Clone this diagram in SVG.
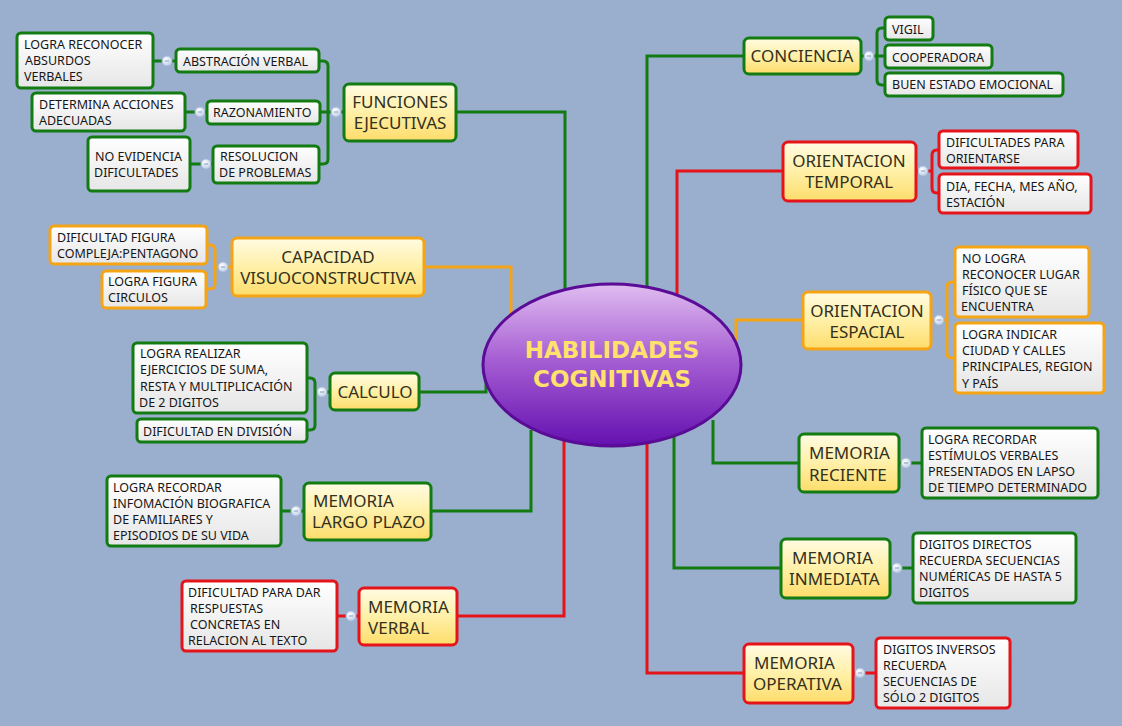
<svg xmlns="http://www.w3.org/2000/svg" width="1122" height="726" viewBox="0 0 1122 726">
<defs>
<linearGradient id="yel" x1="0" y1="0" x2="0" y2="1">
<stop offset="0" stop-color="#fffbe2"/><stop offset="0.5" stop-color="#fff0a8"/><stop offset="1" stop-color="#fddc6a"/>
</linearGradient>
<linearGradient id="wht" x1="0" y1="0" x2="0" y2="1">
<stop offset="0" stop-color="#ffffff"/><stop offset="1" stop-color="#e6e6e6"/>
</linearGradient>
<linearGradient id="pur" x1="0" y1="0" x2="0" y2="1">
<stop offset="0" stop-color="#e0bdf0"/><stop offset="0.45" stop-color="#a861d4"/><stop offset="1" stop-color="#6410b0"/>
</linearGradient>
<radialGradient id="btn" cx="0.4" cy="0.35" r="0.7">
<stop offset="0" stop-color="#ffffff"/><stop offset="1" stop-color="#b9cbe6"/>
</radialGradient>
</defs>
<style>
.g{stroke:#127b12}
.r{stroke:#e5141a}
.o{stroke:#f4a415}
.ln{fill:none;stroke-width:3}
.main{fill:url(#yel);stroke-width:3}
.leaf{fill:url(#wht);stroke-width:3}
.btn{fill:url(#btn);stroke:#a9bcd9;stroke-width:1}
.dash{stroke:#7f97c0;stroke-width:1}
text{font-family:"Noto Sans","DejaVu Sans",sans-serif}
.t{font-size:12.5px;fill:#161616}
.m{font-size:17px;fill:#33301c}
.c{text-anchor:middle}
.h{font-family:"DejaVu Sans",Verdana,sans-serif;font-weight:bold;font-size:23px;fill:#ffe16c;text-anchor:middle}
</style>
<rect width="1122" height="726" fill="#9aaecd"/>

<g id="connectors">
<!-- from center -->
<path class="ln g" d="M457,112 H565 V300"/>
<path class="ln o" d="M424,267 H511 V320"/>
<path class="ln g" d="M419,392 H486 V372"/>
<path class="ln g" d="M431,511 H531 V430"/>
<path class="ln r" d="M457,616 H564 V430"/>
<path class="ln g" d="M744,56 H647 V300"/>
<path class="ln r" d="M783,171 H677 V300"/>
<path class="ln o" d="M803,320 H736 V345"/>
<path class="ln g" d="M799,463 H713 V420"/>
<path class="ln g" d="M781,568 H674 V430"/>
<path class="ln r" d="M744,673 H647 V430"/>
<!-- sub branches -->
<path class="ln g" d="M319,61 H323 Q328,61 328,66 V159 Q328,164 323,164 H319 M320,112 H344"/>
<path class="ln g" d="M153,61 H176"/>
<path class="ln g" d="M185,112 H207"/>
<path class="ln g" d="M190,164 H213"/>
<path class="ln o" d="M207,245 H210 Q215,245 215,250 V284 Q215,289 210,289 H206 M215,267 H232"/>
<path class="ln g" d="M307,378 H310 Q315,378 315,383 V425 Q315,430 310,430 H307 M315,392 H330"/>
<path class="ln g" d="M281,511 H304"/>
<path class="ln r" d="M337,616 H359"/>
<path class="ln g" d="M861,56 H877 M885,28 H882 Q877,28 877,33 V80 Q877,85 882,85 H885 M877,56 H885"/>
<path class="ln r" d="M916,171 H932 M939,150 H937 Q932,150 932,155 V188 Q932,193 937,193 H939"/>
<path class="ln o" d="M931,320 H947 M955,282 H952 Q947,282 947,287 V353 Q947,358 952,358 H955"/>
<path class="ln g" d="M899,463 H922"/>
<path class="ln g" d="M890,568 H913"/>
<path class="ln r" d="M853,673 H876"/>
<!-- collapse buttons -->
<g>
<circle class="btn" cx="167" cy="61" r="5"/><path class="dash" d="M165,61 H169"/>
<circle class="btn" cx="200" cy="112" r="5"/><path class="dash" d="M198,112 H202"/>
<circle class="btn" cx="206" cy="164" r="5"/><path class="dash" d="M204,164 H208"/>
<circle class="btn" cx="336" cy="112" r="5"/><path class="dash" d="M334,112 H338"/>
<circle class="btn" cx="223" cy="267" r="5"/><path class="dash" d="M221,267 H225"/>
<circle class="btn" cx="322" cy="392" r="5"/><path class="dash" d="M320,392 H324"/>
<circle class="btn" cx="296" cy="511" r="5"/><path class="dash" d="M294,511 H298"/>
<circle class="btn" cx="351" cy="616" r="5"/><path class="dash" d="M349,616 H353"/>
<circle class="btn" cx="869" cy="56" r="5"/><path class="dash" d="M867,56 H871"/>
<circle class="btn" cx="923" cy="171" r="5"/><path class="dash" d="M921,171 H925"/>
<circle class="btn" cx="939" cy="320" r="5"/><path class="dash" d="M937,320 H941"/>
<circle class="btn" cx="906" cy="463" r="5"/><path class="dash" d="M904,463 H908"/>
<circle class="btn" cx="897" cy="568" r="5"/><path class="dash" d="M895,568 H899"/>
<circle class="btn" cx="860" cy="673" r="5"/><path class="dash" d="M858,673 H862"/>
</g>
</g>

<g id="center">
<ellipse cx="612" cy="365" rx="129" ry="81" fill="url(#pur)" stroke="#5a0c96" stroke-width="3"/>
<text class="h" x="612" y="358">HABILIDADES</text>
<text class="h" x="612" y="387">COGNITIVAS</text>
</g>

<!-- LEFT SIDE -->
<g id="funciones">
<rect class="main g" x="344" y="84" width="112" height="57" rx="5"/>
<text class="m c" x="400" y="108">FUNCIONES</text>
<text class="m c" x="400" y="129">EJECUTIVAS</text>
</g>
<g id="abstraccion">
<rect class="leaf g" x="176" y="49" width="143" height="23" rx="4"/>
<text class="t" x="183" y="66">ABSTRACIÓN VERBAL</text>
</g>
<g id="absurdos">
<rect class="leaf g" x="17" y="33" width="136" height="55" rx="4"/>
<text class="t" x="24" y="49">LOGRA RECONOCER</text>
<text class="t" x="25" y="65">ABSURDOS</text>
<text class="t" x="24" y="81">VERBALES</text>
</g>
<g id="razonamiento">
<rect class="leaf g" x="207" y="101" width="113" height="23" rx="4"/>
<text class="t" x="213" y="117">RAZONAMIENTO</text>
</g>
<g id="determina">
<rect class="leaf g" x="32" y="93" width="153" height="38" rx="4"/>
<text class="t" x="39" y="109">DETERMINA ACCIONES</text>
<text class="t" x="39" y="125">ADECUADAS</text>
</g>
<g id="resolucion">
<rect class="leaf g" x="213" y="146" width="106" height="37" rx="4"/>
<text class="t" x="220" y="161">RESOLUCION</text>
<text class="t" x="219" y="177">DE PROBLEMAS</text>
</g>
<g id="noevidencia">
<rect class="leaf g" x="88" y="137" width="102" height="54" rx="4"/>
<text class="t" x="95" y="161">NO EVIDENCIA</text>
<text class="t" x="94" y="177">DIFICULTADES</text>
</g>

<g id="capacidad">
<rect class="main o" x="232" y="238" width="192" height="58" rx="5"/>
<text class="m c" x="328" y="263">CAPACIDAD</text>
<text class="m c" x="328" y="284">VISUOCONSTRUCTIVA</text>
</g>
<g id="pentagono">
<rect class="leaf o" x="50" y="226" width="157" height="38" rx="4"/>
<text class="t" x="57" y="242">DIFICULTAD FIGURA</text>
<text class="t" x="57" y="258">COMPLEJA:PENTAGONO</text>
</g>
<g id="circulos">
<rect class="leaf o" x="102" y="271" width="104" height="37" rx="4"/>
<text class="t" x="108" y="286">LOGRA FIGURA</text>
<text class="t" x="108" y="302">CIRCULOS</text>
</g>

<g id="calculo">
<rect class="main g" x="330" y="373" width="89" height="37" rx="5"/>
<text class="m c" x="375" y="398">CALCULO</text>
</g>
<g id="suma">
<rect class="leaf g" x="133" y="343" width="174" height="70" rx="4"/>
<text class="t" x="140" y="358">LOGRA REALIZAR</text>
<text class="t" x="140" y="374">EJERCICIOS DE SUMA,</text>
<text class="t" x="140" y="391">RESTA Y MULTIPLICACIÓN</text>
<text class="t" x="139" y="407">DE 2 DIGITOS</text>
</g>
<g id="division">
<rect class="leaf g" x="137" y="419" width="170" height="23" rx="4"/>
<text class="t" x="143" y="436">DIFICULTAD EN DIVISIÓN</text>
</g>

<g id="largoplazo">
<rect class="main g" x="304" y="483" width="127" height="57" rx="5"/>
<text class="m" x="313" y="507">MEMORIA</text>
<text class="m" x="312" y="528">LARGO PLAZO</text>
</g>
<g id="biografica">
<rect class="leaf g" x="107" y="476" width="174" height="70" rx="4"/>
<text class="t" x="113" y="492">LOGRA RECORDAR</text>
<text class="t" x="113" y="508">INFOMACIÓN BIOGRAFICA</text>
<text class="t" x="113" y="524">DE FAMILIARES Y</text>
<text class="t" x="113" y="540">EPISODIOS DE SU VIDA</text>
</g>

<g id="verbal">
<rect class="main r" x="359" y="588" width="98" height="57" rx="5"/>
<text class="m" x="368" y="613">MEMORIA</text>
<text class="m" x="368" y="634">VERBAL</text>
</g>
<g id="respuestas">
<rect class="leaf r" x="182" y="581" width="155" height="70" rx="4"/>
<text class="t" x="188" y="597">DIFICULTAD PARA DAR</text>
<text class="t" x="190" y="613">RESPUESTAS</text>
<text class="t" x="190" y="629">CONCRETAS EN</text>
<text class="t" x="188" y="645">RELACION AL TEXTO</text>
</g>

<!-- RIGHT SIDE -->
<g id="conciencia">
<rect class="main g" x="744" y="38" width="117" height="36" rx="5"/>
<text class="m c" x="802" y="62">CONCIENCIA</text>
</g>
<g id="vigil">
<rect class="leaf g" x="885" y="17" width="48" height="23" rx="4"/>
<text class="t" x="892" y="34">VIGIL</text>
</g>
<g id="cooperadora">
<rect class="leaf g" x="885" y="45" width="107" height="23" rx="4"/>
<text class="t" x="892" y="62">COOPERADORA</text>
</g>
<g id="emocional">
<rect class="leaf g" x="885" y="73" width="178" height="23" rx="4"/>
<text class="t" x="892" y="89">BUEN ESTADO EMOCIONAL</text>
</g>

<g id="temporal">
<rect class="main r" x="783" y="142" width="133" height="59" rx="5"/>
<text class="m c" x="849" y="167">ORIENTACION</text>
<text class="m c" x="849" y="188">TEMPORAL</text>
</g>
<g id="orientarse">
<rect class="leaf r" x="939" y="131" width="139" height="37" rx="4"/>
<text class="t" x="946" y="147">DIFICULTADES PARA</text>
<text class="t" x="946" y="163">ORIENTARSE</text>
</g>
<g id="fecha">
<rect class="leaf r" x="939" y="174" width="152" height="39" rx="4"/>
<text class="t" x="946" y="191">DIA, FECHA, MES AÑO,</text>
<text class="t" x="946" y="207">ESTACIÓN</text>
</g>

<g id="espacial">
<rect class="main o" x="803" y="292" width="128" height="57" rx="5"/>
<text class="m c" x="867" y="317">ORIENTACION</text>
<text class="m c" x="867" y="338">ESPACIAL</text>
</g>
<g id="lugar">
<rect class="leaf o" x="955" y="247" width="134" height="70" rx="4"/>
<text class="t" x="962" y="263">NO LOGRA</text>
<text class="t" x="962" y="279">RECONOCER LUGAR</text>
<text class="t" x="962" y="295">FÍSICO QUE SE</text>
<text class="t" x="961" y="311">ENCUENTRA</text>
</g>
<g id="ciudad">
<rect class="leaf o" x="955" y="323" width="149" height="70" rx="4"/>
<text class="t" x="962" y="339">LOGRA INDICAR</text>
<text class="t" x="962" y="355">CIUDAD Y CALLES</text>
<text class="t" x="962" y="371">PRINCIPALES, REGION</text>
<text class="t" x="962" y="388">Y PAÍS</text>
</g>

<g id="reciente">
<rect class="main g" x="799" y="434" width="100" height="58" rx="5"/>
<text class="m" x="809" y="459">MEMORIA</text>
<text class="m" x="809" y="481">RECIENTE</text>
</g>
<g id="estimulos">
<rect class="leaf g" x="922" y="428" width="176" height="70" rx="4"/>
<text class="t" x="928" y="444">LOGRA RECORDAR</text>
<text class="t" x="928" y="460">ESTÍMULOS VERBALES</text>
<text class="t" x="928" y="476">PRESENTADOS EN LAPSO</text>
<text class="t" x="928" y="492">DE TIEMPO DETERMINADO</text>
</g>

<g id="inmediata">
<rect class="main g" x="781" y="539" width="109" height="59" rx="5"/>
<text class="m" x="792" y="564">MEMORIA</text>
<text class="m" x="789" y="585">INMEDIATA</text>
</g>
<g id="directos">
<rect class="leaf g" x="913" y="533" width="163" height="70" rx="4"/>
<text class="t" x="919" y="549">DIGITOS DIRECTOS</text>
<text class="t" x="919" y="565">RECUERDA SECUENCIAS</text>
<text class="t" x="919" y="581">NUMÉRICAS DE HASTA 5</text>
<text class="t" x="919" y="597">DIGITOS</text>
</g>

<g id="operativa">
<rect class="main r" x="744" y="644" width="109" height="59" rx="5"/>
<text class="m" x="754" y="669">MEMORIA</text>
<text class="m" x="753" y="690">OPERATIVA</text>
</g>
<g id="inversos">
<rect class="leaf r" x="876" y="638" width="134" height="70" rx="4"/>
<text class="t" x="883" y="654">DIGITOS INVERSOS</text>
<text class="t" x="883" y="670">RECUERDA</text>
<text class="t" x="883" y="686">SECUENCIAS DE</text>
<text class="t" x="883" y="702">SÓLO 2 DIGITOS</text>
</g>
</svg>
